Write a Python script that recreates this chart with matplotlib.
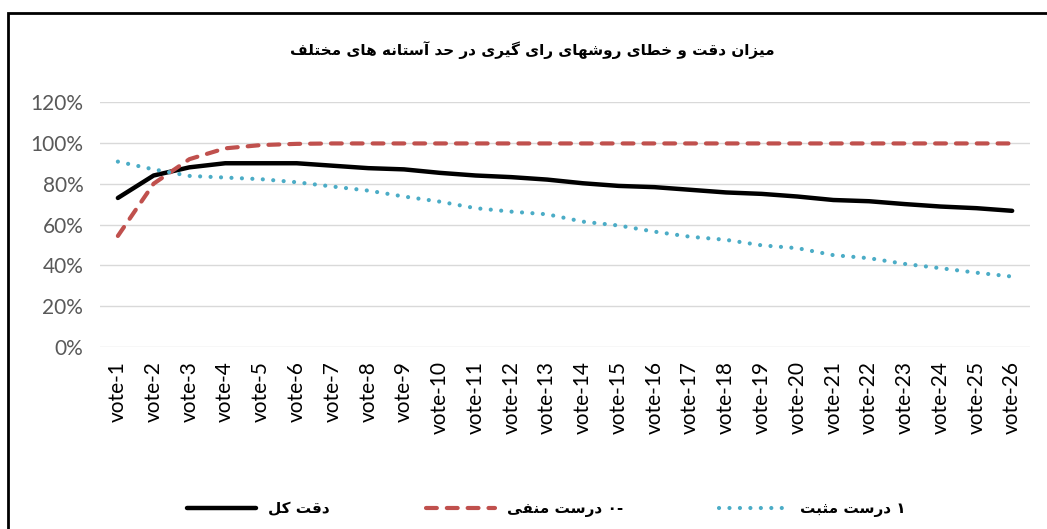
import matplotlib
matplotlib.use('Agg')
import matplotlib.pyplot as plt
from matplotlib import font_manager
from matplotlib.ft2font import FT2Font
from matplotlib.patches import Rectangle
from matplotlib.ticker import PercentFormatter

# data
votes = ['vote-%d' % i for i in range(1, 27)]
total_acc = [73, 84, 88, 90, 90, 90, 88.8, 87.6, 87, 85.3, 84, 83.2, 82,
             80.2, 78.9, 78.3, 77, 75.7, 75, 73.7, 72, 71.4, 70, 68.8, 68, 66.7]
true_neg = [54.4, 80, 92, 97.3, 98.9, 99.5, 99.7, 99.7, 99.7, 99.7, 99.7, 99.7, 99.7,
            99.7, 99.7, 99.7, 99.7, 99.7, 99.7, 99.7, 99.7, 99.7, 99.7, 99.7, 99.7, 99.7]
true_pos = [90.8, 87, 83.8, 83, 82.2, 80.7, 78.6, 76.6, 73.7, 71.2, 68, 66.3, 65,
            61.4, 59.5, 56.5, 54, 52.5, 49.8, 48.4, 45, 43.5, 40.7, 38.6, 36.4, 34.5]

title_fa = 'میزان دقت و خطای روشهای رای گیری در حد آستانه های مختلف'
lbl_total = 'دقت کل'
lbl_neg = 'درست منفی'
lbl_pos = 'درست مثبت'

# --- tiny persian shaper (matplotlib has no bidi / joining) ---
forms = {
    'ا': (0xFE8D, 0xFE8E, None, None), 'آ': (0xFE81, 0xFE82, None, None),
    'د': (0xFEA9, 0xFEAA, None, None), 'ر': (0xFEAD, 0xFEAE, None, None),
    'ز': (0xFEAF, 0xFEB0, None, None), 'و': (0xFEED, 0xFEEE, None, None),
    'ب': (0xFE8F, 0xFE90, 0xFE91, 0xFE92), 'ت': (0xFE95, 0xFE96, 0xFE97, 0xFE98),
    'ث': (0xFE99, 0xFE9A, 0xFE9B, 0xFE9C), 'ح': (0xFEA1, 0xFEA2, 0xFEA3, 0xFEA4),
    'خ': (0xFEA5, 0xFEA6, 0xFEA7, 0xFEA8), 'س': (0xFEB1, 0xFEB2, 0xFEB3, 0xFEB4),
    'ش': (0xFEB5, 0xFEB6, 0xFEB7, 0xFEB8), 'ط': (0xFEC1, 0xFEC2, 0xFEC3, 0xFEC4),
    'ف': (0xFED1, 0xFED2, 0xFED3, 0xFED4), 'ق': (0xFED5, 0xFED6, 0xFED7, 0xFED8),
    'ل': (0xFEDD, 0xFEDE, 0xFEDF, 0xFEE0), 'م': (0xFEE1, 0xFEE2, 0xFEE3, 0xFEE4),
    'ن': (0xFEE5, 0xFEE6, 0xFEE7, 0xFEE8), 'ه': (0xFEE9, 0xFEEA, 0xFEEB, 0xFEEC),
    'ک': (0xFB8E, 0xFB8F, 0xFB90, 0xFB91), 'گ': (0xFB92, 0xFB93, 0xFB94, 0xFB95),
    'ی': (0xFBFC, 0xFBFD, 0xFBFE, 0xFBFF),
}
# fallbacks if the font lacks the persian presentation forms
fallback = {0xFBFC: 0xFEEF, 0xFBFD: 0xFEF0, 0xFBFE: 0xFEF3, 0xFBFF: 0xFEF4,
            0xFB8E: 0xFED9, 0xFB8F: 0xFEDA, 0xFB90: 0xFEDB, 0xFB91: 0xFEDC}

cmap = FT2Font(font_manager.findfont('DejaVu Sans')).get_charmap()


def shape(txt):
    out = []
    for i, c in enumerate(txt):
        if c not in forms:
            out.append(c)
            continue
        prv = txt[i - 1] if i > 0 else ''
        nxt = txt[i + 1] if i + 1 < len(txt) else ''
        jp = prv in forms and forms[prv][2] is not None
        jn = forms[c][2] is not None and nxt in forms
        f = forms[c]
        if jp and jn:
            cp = f[3]
        elif jp:
            cp = f[1]
        elif jn:
            cp = f[2]
        else:
            cp = f[0]
        if cp not in cmap and cp in fallback:
            cp = fallback[cp]
        out.append(chr(cp))
    return ''.join(out)[::-1]


plt.rcParams['font.family'] = ['Lato', 'DejaVu Sans']

fig = plt.figure(figsize=(10.47, 5.29), dpi=100)
ax = fig.add_axes([0.0955, 0.344, 0.8883, 0.4632])

x = list(range(len(votes)))
ax.plot(x, [v / 100 for v in total_acc], color='black', lw=3.2, solid_capstyle='round',
        label=shape(lbl_total))
ax.plot(x, [v / 100 for v in true_neg], color='#C0504D', lw=3,
        linestyle=(0, (2.6, 2.4)), dash_capstyle='round', label=shape(lbl_neg) + ' ۰-')
ax.plot(x, [v / 100 for v in true_pos], color='#4BACC6', lw=3,
        linestyle=(0, (0.01, 2.5)), dash_capstyle='round', label=shape(lbl_pos) + ' ۱')

ax.set_xlim(-0.5, len(votes) - 0.5)
ax.set_ylim(0, 1.2)
ax.set_yticks([0, 0.2, 0.4, 0.6, 0.8, 1.0, 1.2])
ax.yaxis.set_major_formatter(PercentFormatter(1.0, decimals=0))
ax.set_xticks(x)
ax.set_xticklabels(votes, rotation=90)
ax.tick_params(length=0, labelsize=15, colors='#595959', pad=12)
ax.tick_params(axis='x', labelcolor='black', pad=10)
ax.grid(axis='y', color='#D9D9D9', lw=1)
ax.set_axisbelow(True)
for s in ax.spines.values():
    s.set_visible(False)

fig.text(0.5086, 0.905, shape(title_fa), ha='center', va='center', fontsize=11,
         family='DejaVu Sans', fontweight='bold')

fig.legend(loc='center', bbox_to_anchor=(0.522, 0.038), ncol=3, frameon=False,
           handlelength=4.5, columnspacing=6.3,
           prop={'family': 'DejaVu Sans', 'weight': 'bold', 'size': 11})

# outer chart border (cropped on the right and bottom in the reference)
fig.add_artist(Rectangle((8 / 1047, -0.05), 1.2, 1 - 13 / 529 + 0.05,
                         transform=fig.transFigure, fill=False, lw=2, ec='black'))

fig.savefig('out.png', dpi=100)
